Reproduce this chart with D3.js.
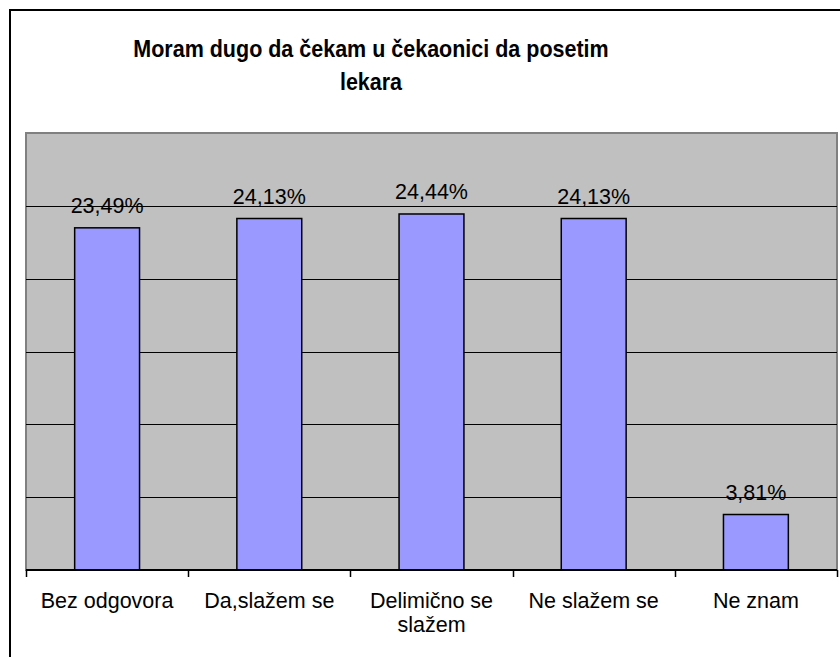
<!DOCTYPE html>
<html>
<head>
<meta charset="utf-8">
<script src="https://cdn.jsdelivr.net/npm/d3@7"></script>
<style>
body { margin: 0; background: #fff; }
text { font-family: "Liberation Sans", Arial, sans-serif; }
</style>
</head>
<body>
<div id="chart"></div>
<script>
var categories = ["Bez odgovora", "Da,slažem se", "Delimično se slažem", "Ne slažem se", "Ne znam"];
var values = [23.49, 24.13, 24.44, 24.13, 3.81];
var valueLabels = ["23,49%", "24,13%", "24,44%", "24,13%", "3,81%"];
var yTicks = [0, 5, 10, 15, 20, 25, 30];
var titleLines = ["Moram dugo da čekam u čekaonici da posetim", "lekara"];

var width = 840, height = 657;
var plot = {left: 26, right: 837, top: 133, bottom: 570};
var labelSize = "21.5px";

var svg = d3.select("#chart").append("svg")
  .attr("width", width)
  .attr("height", height);

/* outer chart border */
svg.append("rect")
  .attr("x", 10).attr("y", 10)
  .attr("width", 850).attr("height", 670)
  .attr("fill", "#fff")
  .attr("stroke", "#000")
  .attr("stroke-width", 2);

/* title, stretched a bit vertically like the original */
svg.append("g")
  .attr("transform", "translate(371,0) scale(1,1.1)")
  .append("text")
  .attr("text-anchor", "middle")
  .style("font-size", "21.5px")
  .style("font-weight", "bold")
  .selectAll("tspan")
  .data(titleLines).enter()
  .append("tspan")
  .attr("x", 0)
  .attr("y", (d, i) => (57 + i * 33) / 1.1)
  .text(d => d);

var x = d3.scaleBand()
  .domain(categories)
  .range([plot.left, plot.right])
  .paddingInner(0.6)
  .paddingOuter(0.3);

var y = d3.scaleLinear()
  .domain([0, 30])
  .range([plot.bottom, plot.top]);

/* plot area */
svg.append("rect")
  .attr("x", plot.left).attr("y", plot.top)
  .attr("width", plot.right - plot.left)
  .attr("height", plot.bottom - plot.top)
  .attr("fill", "#c0c0c0")
  .attr("stroke", "#808080")
  .attr("stroke-width", 2);

/* gridlines */
svg.append("g")
  .selectAll("line")
  .data(yTicks.filter(t => t > 0 && t < 30)).enter()
  .append("line")
  .attr("x1", plot.left).attr("x2", plot.right)
  .attr("y1", d => Math.round(y(d)) + 0.5)
  .attr("y2", d => Math.round(y(d)) + 0.5)
  .attr("stroke", "#000")
  .attr("stroke-width", 1);

/* bars */
svg.append("g")
  .selectAll("rect")
  .data(values).enter()
  .append("rect")
  .attr("x", (d, i) => x(categories[i]))
  .attr("y", d => y(d))
  .attr("width", x.bandwidth())
  .attr("height", d => y(0) - y(d))
  .attr("fill", "#9999ff")
  .attr("stroke", "#000")
  .attr("stroke-width", 1.5);

/* value labels */
svg.append("g")
  .selectAll("text")
  .data(values).enter()
  .append("text")
  .attr("x", (d, i) => x(categories[i]) + x.bandwidth() / 2)
  .attr("y", d => y(d) - 15)
  .attr("text-anchor", "middle")
  .style("font-size", labelSize)
  .text((d, i) => valueLabels[i]);

/* x axis */
var step = x.step();
var boundaries = d3.range(categories.length + 1).map(i => plot.left + i * step);
var axis = svg.append("g");
axis.append("line")
  .attr("x1", plot.left).attr("x2", plot.right)
  .attr("y1", plot.bottom).attr("y2", plot.bottom)
  .attr("stroke", "#000").attr("stroke-width", 2);
axis.selectAll(".tick")
  .data(boundaries).enter()
  .append("line")
  .attr("x1", d => Math.round(d) + 0.5).attr("x2", d => Math.round(d) + 0.5)
  .attr("y1", plot.bottom).attr("y2", plot.bottom + 7)
  .attr("stroke", "#000").attr("stroke-width", 1.5);

/* category labels, wrapped to the band */
axis.selectAll(".cat")
  .data(categories).enter()
  .append("text")
  .attr("class", "cat")
  .attr("text-anchor", "middle")
  .style("font-size", labelSize)
  .each(function(d) {
    var t = d3.select(this);
    var cx = x(d) + x.bandwidth() / 2;
    var words = d.split(" ");
    var lines = [], cur = [];
    var probe = t.append("tspan");
    words.forEach(function(w) {
      cur.push(w);
      probe.text(cur.join(" "));
      if (probe.node().getComputedTextLength() > step - 12 && cur.length > 1) {
        cur.pop();
        lines.push(cur.join(" "));
        cur = [w];
      }
    });
    lines.push(cur.join(" "));
    probe.remove();
    lines.forEach(function(l, i) {
      t.append("tspan").attr("x", cx).attr("y", 608 + i * 24).text(l);
    });
  });
</script>
</body>
</html>
